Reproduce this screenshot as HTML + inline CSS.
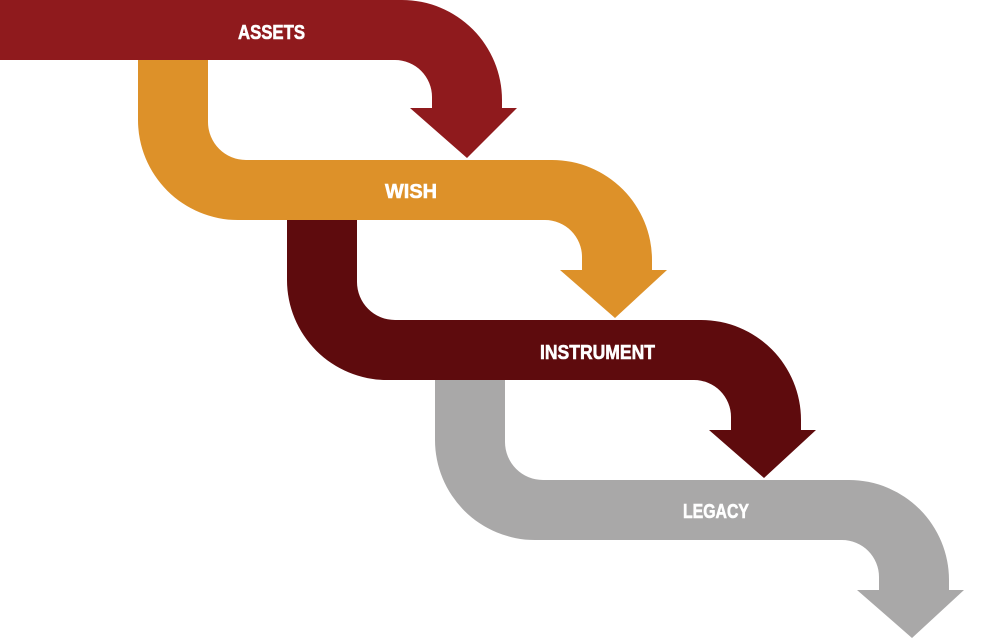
<!DOCTYPE html>
<html><head><meta charset="utf-8"><style>
html,body{margin:0;padding:0;background:#fff;}
svg{display:block}
text{font-family:"Liberation Sans Narrow","Liberation Sans",sans-serif;font-weight:bold;fill:#fff;font-size:20px;stroke:#fff;stroke-width:0.6px}
</style></head><body>
<svg width="1000" height="639" viewBox="0 0 1000 639" xmlns="http://www.w3.org/2000/svg">
<defs>
<path id="a" d="M138,60 H208 V122 A38,38 0 0 0 246,160 H552 A100,100 0 0 1 652,260 V270 H667 L615,318 L560,270 H582 V257 A37,37 0 0 0 545,220 H238 A100,100 0 0 1 138,120 Z"/>
</defs>
<use href="#a" fill="#a9a8a8" transform="translate(297,320)"/>
<use href="#a" fill="#5e0b0d" transform="translate(149,160)"/>
<use href="#a" fill="#dd9129"/>
<path d="M0,0 H402 A100,100 0 0 1 502,100 V108 H517 L467,158 L410,108 H432 V97 A37,37 0 0 0 395,60 H0 Z" fill="#8f1a1d"/>
<text x="238" y="39" textLength="67" lengthAdjust="spacingAndGlyphs">ASSETS</text>
<text x="385" y="198" textLength="52" lengthAdjust="spacingAndGlyphs">WISH</text>
<text x="540" y="359" textLength="115" lengthAdjust="spacingAndGlyphs">INSTRUMENT</text>
<text x="683" y="518" textLength="66" lengthAdjust="spacingAndGlyphs">LEGACY</text>
</svg>
</body></html>
